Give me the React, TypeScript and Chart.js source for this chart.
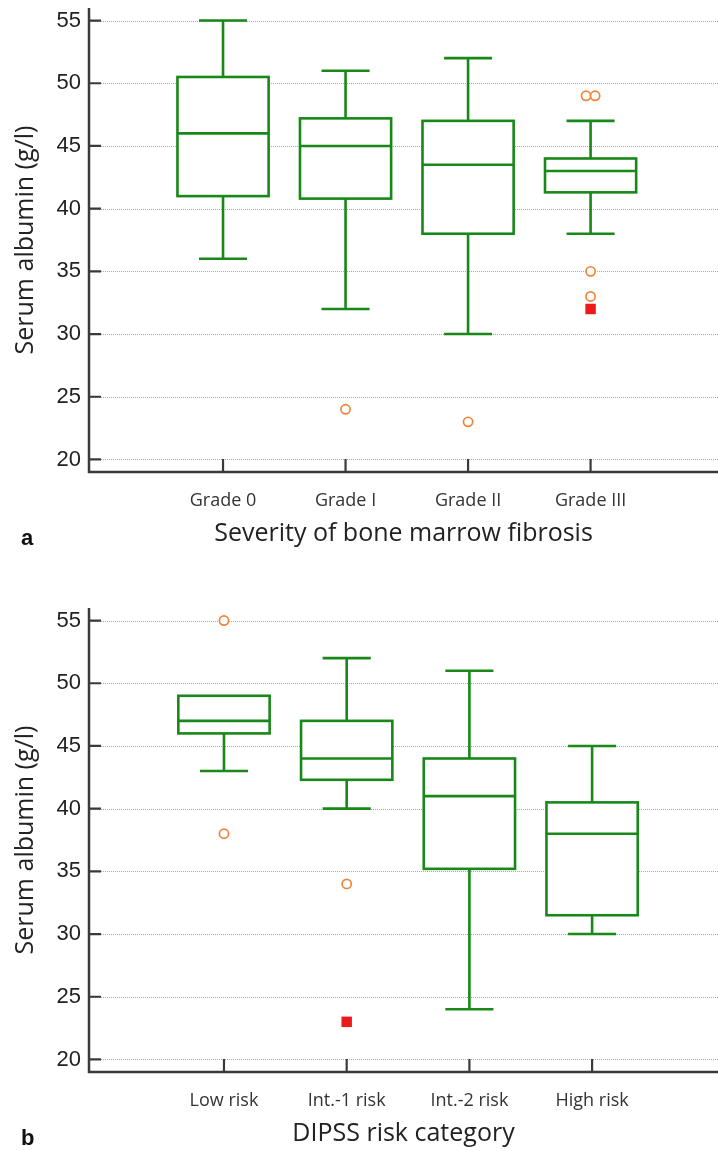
import React, { useEffect, useRef } from 'react';
import { Chart, registerables } from 'chart.js';

Chart.register(...registerables);

// ---------- Panel a data ----------
const categoriesA = ['Grade 0', 'Grade I', 'Grade II', 'Grade III'];
const whiskerLowA = [36, 32, 30, 38];
const q1A = [41, 40.8, 38, 41.3];
const medianA = [46, 45, 43.5, 43];
const q3A = [50.5, 47.2, 47, 44];
const whiskerHighA = [55, 51, 52, 47];
const outliersA: number[][] = [[], [24], [23], [49, 49, 35, 33]];
const farOutA: number[][] = [[], [], [], [32]];

// ---------- Panel b data ----------
const categoriesB = ['Low risk', 'Int.-1 risk', 'Int.-2 risk', 'High risk'];
const whiskerLowB = [43, 40, 24, 30];
const q1B = [46, 42.3, 35.2, 31.5];
const medianB = [47, 44, 41, 38];
const q3B = [49, 47, 44, 40.5];
const whiskerHighB = [49, 52, 51, 45];
const outliersB: number[][] = [[55, 38], [34], [], []];
const farOutB: number[][] = [[], [23], [], []];

// ---------- Axes ----------
const yTickValues = [20, 25, 30, 35, 40, 45, 50, 55];
const yMin = 19;
const yMax = 56;
const yTitle = 'Serum albumin (g/l)';
const xTitleA = 'Severity of bone marrow fibrosis';
const xTitleB = 'DIPSS risk category';

const GREEN = '#188818';
const ORANGE = '#f0843a';
const RED = '#ee1a1a';
const AXIS = '#3a3a3a';

function toPoints(groups: number[][]) {
  const pts: { x: number; y: number }[] = [];
  groups.forEach((vals, i) => {
    const counts: Record<string, number> = {};
    vals.forEach((v) => (counts[v] = (counts[v] || 0) + 1));
    const seen: Record<string, number> = {};
    vals.forEach((v) => {
      const n = counts[v];
      const k = seen[v] || 0;
      seen[v] = k + 1;
      const off = (k - (n - 1) / 2) * 0.074;
      pts.push({ x: i + 1 + off, y: v });
    });
  });
  return pts;
}

const boxPlugin = {
  id: 'boxes',
  beforeDatasetsDraw(chart: any, _args: any, opts: any) {
    const { ctx, chartArea, scales } = chart;
    const x = scales.x;
    const y = scales.y;
    ctx.save();
    // dotted grid
    ctx.strokeStyle = '#a8a8a8';
    ctx.lineWidth = 1;
    ctx.setLineDash([1, 1]);
    yTickValues.forEach((v) => {
      const py = Math.round(y.getPixelForValue(v)) + 0.5;
      ctx.beginPath();
      ctx.moveTo(chartArea.left, py);
      ctx.lineTo(chartArea.right, py);
      ctx.stroke();
    });
    ctx.setLineDash([]);

    // boxes
    const halfBox = 0.372;
    const halfCap = 0.196;
    ctx.strokeStyle = GREEN;
    ctx.lineWidth = 2.6;
    ctx.lineCap = 'butt';
    const n = opts.median.length;
    for (let i = 0; i < n; i++) {
      const c = i + 1;
      const px = x.getPixelForValue(c);
      const xl = x.getPixelForValue(c - halfBox);
      const xr = x.getPixelForValue(c + halfBox);
      const cl = x.getPixelForValue(c - halfCap);
      const cr = x.getPixelForValue(c + halfCap);
      const yLo = y.getPixelForValue(opts.low[i]);
      const yQ1 = y.getPixelForValue(opts.q1[i]);
      const yMed = y.getPixelForValue(opts.median[i]);
      const yQ3 = y.getPixelForValue(opts.q3[i]);
      const yHi = y.getPixelForValue(opts.high[i]);
      // whiskers
      ctx.beginPath();
      if (opts.high[i] > opts.q3[i]) {
        ctx.moveTo(px, yQ3);
        ctx.lineTo(px, yHi);
        ctx.moveTo(cl, yHi);
        ctx.lineTo(cr, yHi);
      }
      if (opts.low[i] < opts.q1[i]) {
        ctx.moveTo(px, yQ1);
        ctx.lineTo(px, yLo);
        ctx.moveTo(cl, yLo);
        ctx.lineTo(cr, yLo);
      }
      ctx.stroke();
      // box
      ctx.fillStyle = '#ffffff';
      ctx.fillRect(xl, yQ3, xr - xl, yQ1 - yQ3);
      ctx.strokeRect(xl, yQ3, xr - xl, yQ1 - yQ3);
      ctx.beginPath();
      ctx.moveTo(xl, yMed);
      ctx.lineTo(xr, yMed);
      ctx.stroke();
    }

    // axis lines and inward ticks
    ctx.strokeStyle = AXIS;
    ctx.lineWidth = 2.5;
    ctx.beginPath();
    ctx.moveTo(chartArea.left, chartArea.top);
    ctx.lineTo(chartArea.left, chartArea.bottom);
    ctx.moveTo(chartArea.left - 1.25, chartArea.bottom);
    ctx.lineTo(chartArea.right, chartArea.bottom);
    ctx.stroke();
    ctx.lineWidth = 2.2;
    ctx.beginPath();
    yTickValues.forEach((v) => {
      const py = y.getPixelForValue(v);
      ctx.moveTo(chartArea.left, py);
      ctx.lineTo(chartArea.left + 12, py);
    });
    for (let i = 0; i < n; i++) {
      const px = x.getPixelForValue(i + 1);
      ctx.moveTo(px, chartArea.bottom);
      ctx.lineTo(px, chartArea.bottom - 13);
    }
    ctx.stroke();

    // panel letter
    ctx.fillStyle = '#111';
    ctx.font = 'bold 22px "Liberation Sans", Arial, sans-serif';
    ctx.textAlign = 'left';
    ctx.textBaseline = 'alphabetic';
    ctx.fillText(opts.letter, 21, chart.height - 6);
    ctx.restore();
  },
};

function makeConfig(spec: any) {
  const cats: string[] = spec.categories;
  return {
    type: 'scatter',
    data: {
      datasets: [
        {
          data: toPoints(spec.outliers),
          pointStyle: 'circle',
          radius: 4.6,
          borderColor: ORANGE,
          backgroundColor: '#ffffff',
          borderWidth: 1.7,
        },
        {
          data: toPoints(spec.farOut),
          pointStyle: 'rect',
          radius: 7.4,
          borderColor: RED,
          backgroundColor: RED,
          borderWidth: 0,
        },
      ],
    },
    options: {
      responsive: false,
      animation: false,
      layout: { autoPadding: false, padding: { top: 8, right: 0, bottom: 0, left: 0 } },
      plugins: {
        legend: { display: false },
        tooltip: { enabled: false },
        boxes: {
          low: spec.low,
          q1: spec.q1,
          median: spec.median,
          q3: spec.q3,
          high: spec.high,
          letter: spec.letter,
        },
      },
      scales: {
        x: {
          type: 'linear',
          min: spec.xMin,
          max: spec.xMax,
          afterBuildTicks: (s: any) => {
            s.ticks = cats.map((_, i) => ({ value: i + 1 }));
          },
          afterFit: (s: any) => {
            s.height = 79;
            s.paddingLeft = 0;
            s.paddingRight = 0;
          },
          ticks: {
            callback: (v: any) => cats[Math.round(v) - 1] ?? '',
            font: { family: '"Open Sans"', size: 18 },
            color: '#333',
            padding: 18,
            autoSkip: false,
            maxRotation: 0,
            minRotation: 0,
          },
          grid: { display: false, drawTicks: false },
          border: { display: false },
          title: {
            display: true,
            text: spec.xTitle,
            font: { family: '"Open Sans"', size: 25 },
            color: '#222',
            padding: { top: 0, bottom: 2 },
          },
        },
        y: {
          type: 'linear',
          min: yMin,
          max: yMax,
          afterBuildTicks: (s: any) => {
            s.ticks = yTickValues.map((v) => ({ value: v }));
          },
          afterFit: (s: any) => {
            s.width = 89;
            s.paddingTop = 0;
            s.paddingBottom = 0;
          },
          ticks: {
            font: { family: '"Liberation Sans", Arial, sans-serif', size: 22 },
            color: '#222',
            padding: 8,
          },
          grid: { display: false, drawTicks: false },
          border: { display: false },
          title: {
            display: true,
            text: yTitle,
            font: { family: '"Open Sans"', size: 25 },
            color: '#222',
            padding: { top: 11, bottom: 0 },
          },
        },
      },
    },
    plugins: [boxPlugin],
  };
}

const specA = {
  categories: categoriesA,
  low: whiskerLowA,
  q1: q1A,
  median: medianA,
  q3: q3A,
  high: whiskerHighA,
  outliers: outliersA,
  farOut: farOutA,
  xTitle: xTitleA,
  letter: 'a',
  xMin: -0.094,
  xMax: 5.04,
};

const specB = {
  categories: categoriesB,
  low: whiskerLowB,
  q1: q1B,
  median: medianB,
  q3: q3B,
  high: whiskerHighB,
  outliers: outliersB,
  farOut: farOutB,
  xTitle: xTitleB,
  letter: 'b',
  xMin: -0.1,
  xMax: 5.026,
};

function BoxChart({ spec, top }: { spec: any; top: number }) {
  const ref = useRef<HTMLCanvasElement>(null);
  useEffect(() => {
    if (!ref.current) return;
    const chart = new Chart(ref.current, makeConfig(spec) as any);
    return () => chart.destroy();
  }, [spec]);
  return (
    <canvas
      ref={ref}
      width={718}
      height={551}
      style={{ position: 'absolute', left: 0, top, width: 718, height: 551, display: 'block' }}
    />
  );
}

export default function App() {
  return (
    <div style={{ position: 'absolute', left: 0, top: 0, width: 718, height: 1151, background: '#fff', overflow: 'hidden' }}>
      <BoxChart spec={specA} top={0} />
      <BoxChart spec={specB} top={600} />
    </div>
  );
}
